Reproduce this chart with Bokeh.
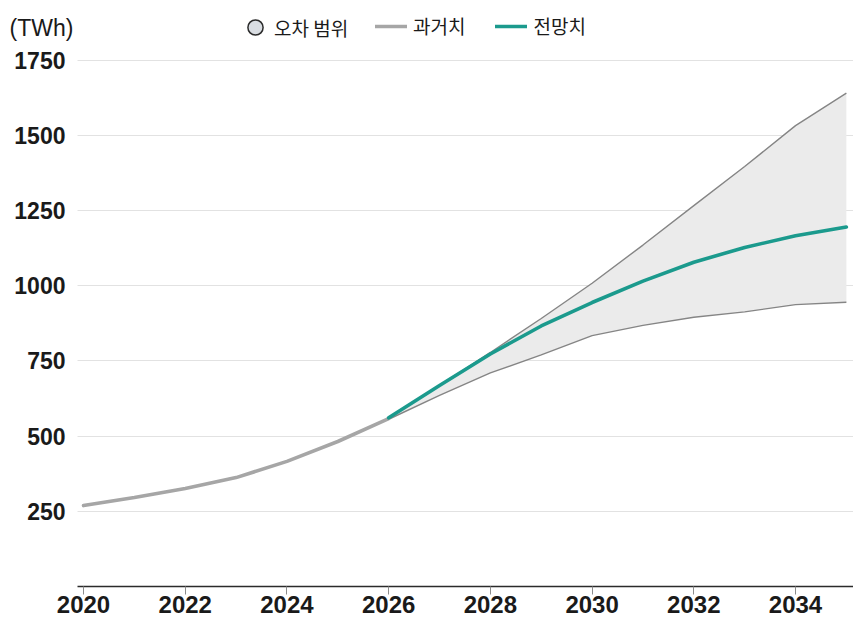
from bokeh.plotting import figure
from bokeh.models import Range1d, FixedTicker, Legend, LegendItem, Label
from bokeh.embed import file_html
from bokeh.resources import INLINE

# ---- data ----
hist_years = [2020, 2021, 2022, 2023, 2024, 2025, 2026]
hist_values = [269, 296, 326, 362, 416, 482, 558]

fc_years = [2026, 2027, 2028, 2029, 2030, 2031, 2032, 2033, 2034, 2035]
fc_values = [561, 668, 773, 866, 944, 1015, 1078, 1127, 1166, 1195]
upper_values = [561, 668, 778, 891, 1008, 1135, 1266, 1396, 1532, 1640]
lower_values = [556, 635, 710, 770, 834, 868, 895, 913, 937, 945]

x_ticks = [2020, 2022, 2024, 2026, 2028, 2030, 2032, 2034]
y_ticks = [250, 500, 750, 1000, 1250, 1500, 1750]

unit_label = "(TWh)"
legend_band = "오차 범위"
legend_hist = "과거치"
legend_fc = "전망치"

# ---- styles ----
TEAL = "#1b9a8d"
HIST_GREY = "#a6a6a6"
BOUND_GREY = "#858585"
BAND_FILL = "#ebebeb"
TEXT = "#1a1a1a"
KFONT = "Noto Sans CJK KR"
NFONT = "Liberation Sans"

PLOT_X0, PLOT_X1 = 2019.88, 2035.14   # visible plotting area (axis line / grid extent)

p = figure(width=853, height=621, output_backend="svg", toolbar_location=None,
           x_range=Range1d(2018.525, PLOT_X1), y_range=Range1d(0, 1948),
           min_border_left=8, min_border_right=0, min_border_top=0, min_border_bottom=35)
p.outline_line_color = None
p.background_fill_color = "white"
p.border_fill_color = "white"

# band
p.varea(x=fc_years, y1=lower_values, y2=upper_values, fill_color=BAND_FILL)
p.line(fc_years, upper_values, line_color=BOUND_GREY, line_width=1.4)
p.line(fc_years, lower_values, line_color=BOUND_GREY, line_width=1.4)

hist = p.line(hist_years, hist_values, line_color=HIST_GREY, line_width=3.6, line_cap="round")
fc = p.line(fc_years, fc_values, line_color=TEAL, line_width=3.6, line_cap="round")

# legend proxy for the band (circle icon)
band_icon = p.scatter(x=[fc_years[0]], y=[fc_values[0]], marker="circle", size=0,
                      fill_color="#d9dde2", line_color="#2b2b2b", line_width=1.5)

# axes
p.xaxis.ticker = FixedTicker(ticks=x_ticks)
p.yaxis.ticker = FixedTicker(ticks=y_ticks)
p.xgrid.grid_line_color = None
p.ygrid.grid_line_color = "#e2e2e2"
p.ygrid.grid_line_width = 1
p.ygrid.cross_bounds = (PLOT_X0, PLOT_X1)

p.xaxis.bounds = (PLOT_X0, PLOT_X1)
p.xaxis.axis_line_color = "#2b2b2b"
p.xaxis.axis_line_width = 1.5
p.xaxis.major_tick_line_color = "#8c8c8c"
p.xaxis.major_tick_out = 8
p.xaxis.major_tick_in = 0
p.xaxis.minor_tick_line_color = None
p.xaxis.major_label_standoff = 1
p.xaxis.major_label_text_font = NFONT
p.xaxis.major_label_text_font_style = "bold"
p.xaxis.major_label_text_font_size = "24px"
p.xaxis.major_label_text_color = TEXT

p.yaxis.axis_line_color = None
p.yaxis.major_tick_line_color = None
p.yaxis.minor_tick_line_color = None
p.yaxis.major_tick_out = 0
p.yaxis.major_tick_in = 0
p.yaxis.minor_tick_out = 0
p.yaxis.minor_tick_in = 0
p.yaxis.major_label_standoff = -57
p.yaxis.major_label_text_font = NFONT
p.yaxis.major_label_text_font_style = "bold"
p.yaxis.major_label_text_font_size = "23px"
p.yaxis.major_label_text_color = TEXT

# legends
leg1 = Legend(items=[LegendItem(label=legend_band, renderers=[band_icon])],
              location=(228, 540), orientation="horizontal",
              glyph_width=38, glyph_height=38, label_standoff=-8,
              padding=0, margin=0, border_line_color=None, background_fill_alpha=0,
              label_text_font=KFONT, label_text_font_size="19px", label_text_color=TEXT)
leg2 = Legend(items=[LegendItem(label=legend_hist, renderers=[hist]),
                     LegendItem(label=legend_fc, renderers=[fc])],
              location=(367, 547), orientation="horizontal",
              glyph_width=32, glyph_height=20, label_standoff=6, spacing=30,
              padding=0, margin=0, border_line_color=None, background_fill_alpha=0,
              label_text_font=KFONT, label_text_font_size="19px", label_text_color=TEXT)
p.add_layout(leg1, "center")
p.add_layout(leg2, "center")

p.add_layout(Label(x=1, y=559, x_units="screen", y_units="screen", text=unit_label,
                   text_font=NFONT, text_font_size="23px", text_color=TEXT,
                   text_baseline="middle", text_align="left"))

open("out.html", "w").write(file_html(p, INLINE))
